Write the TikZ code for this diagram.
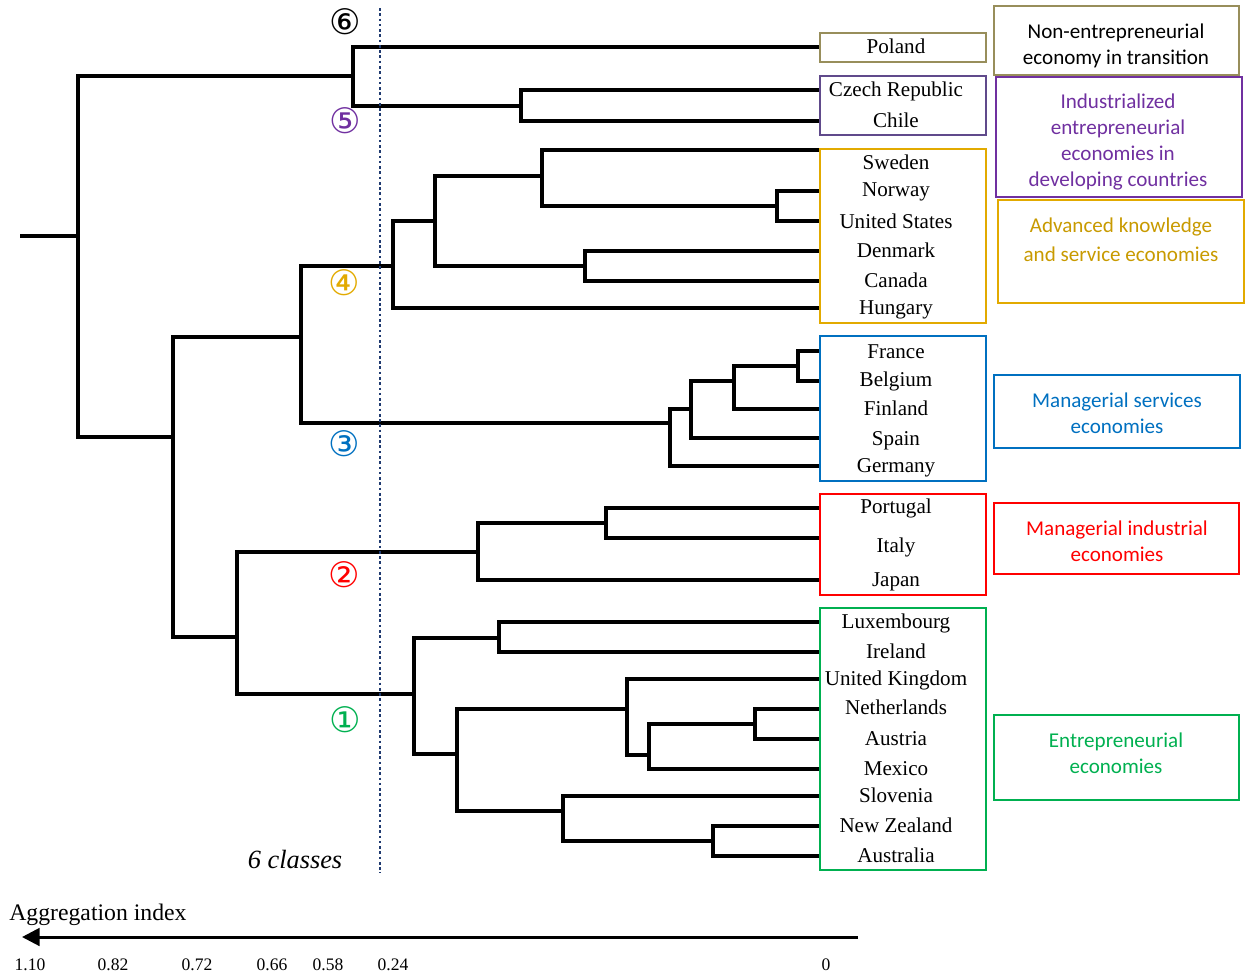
\documentclass[tikz,border=0pt]{standalone}
\usepackage{fontspec}
\setmainfont{Liberation Serif}
\newfontfamily\calibfont{Carlito}
\newfontfamily\symfont{DejaVu Sans}
\usetikzlibrary{arrows.meta}
\definecolor{grpolive}{HTML}{988E5B}
\definecolor{grppurple}{HTML}{604A8B}
\definecolor{catpurple}{HTML}{7030A0}
\definecolor{grpgold}{HTML}{E2AA00}
\definecolor{catgold}{HTML}{C89A00}
\definecolor{grpblue}{HTML}{0070C0}
\definecolor{grpred}{HTML}{FF0000}
\definecolor{grpgreen}{HTML}{00B050}
\definecolor{cutnavy}{HTML}{1F3A70}

\begin{document}
\begin{tikzpicture}[x=0.02cm,y=-0.02cm,
    link/.style={line width=1.8pt},
    grpbox/.style={line width=1.2pt},
    country/.style={anchor=base,inner sep=0pt,font=\fontsize{12}{14}\selectfont},
    cattext/.style={align=center,inner sep=0pt,font=\calibfont\fontsize{12}{14.7}\selectfont},
    classno/.style={inner sep=0pt,font=\symfont\fontsize{20}{20}\selectfont},
    tick/.style={anchor=base,inner sep=0pt,font=\fontsize{10}{12}\selectfont}]

    \useasboundingbox (0,0) rectangle (1248,978);

    \foreach \n/\y in {pol/47,cze/90,chl/121,swe/150,nor/191,usa/221,den/251,can/281,hun/308,
        fra/351,bel/381,fin/409,esp/438,ger/466,por/508,ita/538,jpn/580,
        lux/622,irl/652,gbr/679,nld/709,aut/739,mex/769,svn/796,nzl/826,aus/856}
        \coordinate (\n) at (820,\y);

    \foreach \m/\x/\y/\a/\b in {m1/521/106/cze/chl, m2/353/76/pol/m1, m3/777/206/nor/usa,
        m4/542/176/swe/m3, m5/585/266/den/can, m6/435/221/m4/m5, m7/393/266/m6/hun,
        m8/798/366/fra/bel, m9/734/381/m8/fin, m10/691/409/m9/esp, m11/670/423/m10/ger,
        m12/301/337/m7/m11, m13/606/523/por/ita, m14/478/552/m13/jpn, m15/499/638/lux/irl,
        m16/755/724/nld/aut, m17/649/755/m16/mex, m18/627/709/gbr/m17, m19/713/841/nzl/aus,
        m20/563/811/svn/m19, m21/457/754/m18/m20, m22/414/694/m15/m21, m23/237/637/m14/m22,
        m24/173/437/m12/m23, m25/78/236/m2/m24}
        {\coordinate (\m) at (\x,\y);
         \draw[link] (\a) -| (\m) |- (\b);}

    \coordinate (rootL) at (20,236);
    \draw[link] (rootL) -- (m25);

    \coordinate (cutT) at (380,8);
    \coordinate (cutB) at (380,873);
    \draw[cutnavy,line width=1.5pt,dash pattern=on 1.5pt off 1.5pt] (cutT) -- (cutB);

    \foreach \n/\y/\t in {pol/47/Poland,cze/90/Czech Republic,chl/121/Chile,swe/163/Sweden,
        nor/190/Norway,usa/222/United States,den/251/Denmark,can/281/Canada,hun/308/Hungary,
        fra/352/France,bel/380/Belgium,fin/409/Finland,esp/439/Spain,ger/466/Germany,
        por/507/Portugal,ita/546/Italy,jpn/580/Japan,lux/622/Luxembourg,irl/652/Ireland,
        gbr/679/United Kingdom,nld/708/Netherlands,aut/739/Austria,mex/769/Mexico,
        svn/796/Slovenia,nzl/826/New Zealand,aus/856/Australia}
        \node[country] (t\n) at (896,\y+6) {\t};

    \draw[grpbox,grpolive] (820,33) rectangle (986,62);
    \draw[grpbox,grppurple] (820,76) rectangle (986,135);
    \draw[grpbox,grpgold] (820,149) rectangle (986,323);
    \draw[grpbox,grpblue] (820,336) rectangle (986,481);
    \draw[grpbox,grpred] (820,494) rectangle (986,595);
    \draw[grpbox,grpgreen] (820,608) rectangle (986,870);

    \draw[grpbox,grpolive] (994,6) rectangle (1239,75);
    \node[cattext] (k6) at (1116,46) {Non-entrepreneurial\\economy in transition};
    \draw[grpbox,catpurple] (996,77) rectangle (1242,197);
    \node[cattext,catpurple] (k5) at (1118,142) {Industrialized\\entrepreneurial\\economies in\\developing countries};
    \draw[grpbox,grpgold] (998,200) rectangle (1244,303);
    \node[cattext,catgold,font=\calibfont\fontsize{12}{16.5}\selectfont] (k4) at (1121,240) {Advanced knowledge\\and service economies};
    \draw[grpbox,grpblue] (994,375) rectangle (1240,448);
    \node[cattext,grpblue] (k3) at (1117,413) {Managerial services\\economies};
    \draw[grpbox,grpred] (994,503) rectangle (1239,574);
    \node[cattext,grpred] (k2) at (1117,541) {Managerial industrial\\economies};
    \draw[grpbox,grpgreen] (994,715) rectangle (1239,800);
    \node[cattext,grpgreen] (k1) at (1116,753) {Entrepreneurial\\economies};

    \node[classno] (c6) at (345,22) {⑥};
    \node[classno,catpurple] (c5) at (345,121) {⑤};
    \node[classno,grpgold] (c4) at (344,283) {④};
    \node[classno,grpblue] (c3) at (344,444) {③};
    \node[classno,grpred] (c2) at (344,575) {②};
    \node[classno,grpgreen] (c1) at (345,720) {①};

    \node[anchor=base,inner sep=0pt,font=\fontsize{15}{18}\selectfont\itshape] (ncl) at (295,868) {6 classes};

    \node[anchor=base west,inner sep=0pt,font=\fontsize{13.5}{16}\selectfont] (agg) at (9,920) {Aggregation index};
    \coordinate (ax0) at (858,937);
    \coordinate (ax1) at (22,937);
    \draw[line width=1.7pt,-{Triangle[length=10pt,width=10pt]}] (ax0) -- (ax1);
    \foreach \x/\v in {30/1.10,113/0.82,197/0.72,272/0.66,328/0.58,393/0.24,826/0}
        \node[tick] (v\x) at (\x,970) {\v};

\end{tikzpicture}
\end{document}
